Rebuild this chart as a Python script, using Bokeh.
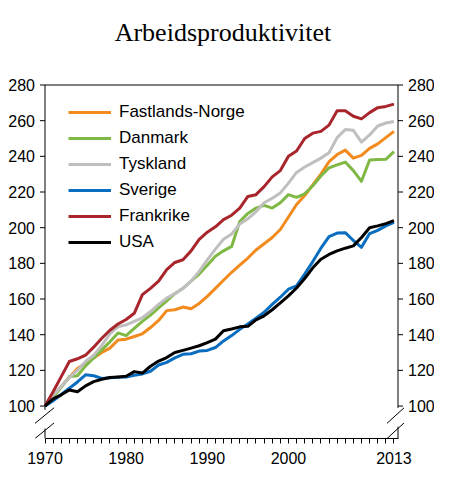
from bokeh.plotting import figure
from bokeh.models import FixedTicker, Range1d, Arrow, Label
from bokeh.core.properties import value
from bokeh.embed import file_html
from bokeh.resources import INLINE

# Data (index 1970 = 100)
years = list(range(1970, 2014))

fastlands_norge = [100, 105, 111, 116, 121, 124, 127, 130, 132.5, 137,
                   137.5, 139, 140.5, 144, 148, 153.5, 154, 155.5, 154.5, 157.5,
                   161.5, 166, 170.5, 175, 179, 183, 187.5, 191, 194.5, 199,
                   206, 213, 218, 224, 230, 237, 241, 243.5, 239, 240.5,
                   244.5, 247, 250.5, 254]
danmark = [100, 105, 110.5, 116.5, 117, 122.5, 127, 131.5, 136, 141,
           139.5, 143.5, 147.5, 151, 155, 159, 163, 166, 170, 174,
           179, 184, 187, 189.5, 203.5, 208, 211, 212.5, 211, 214,
           218.5, 217, 219, 223.5, 229, 233.5, 235.2, 236.8, 232, 226,
           238, 238.2, 238.3, 242.6]
tyskland = [100, 106, 111, 116, 120, 125, 128.5, 134, 140.5, 144.5,
            145.5, 147.5, 149.5, 153, 157, 160.5, 163, 166, 170, 175.5,
            182, 188, 193.5, 196.5, 202, 205, 209, 214, 216.5, 219.5,
            225, 231, 234, 236.5, 239, 242, 250.5, 255, 254.6, 248,
            252, 257, 258.7, 259.5]
sverige = [100, 103, 106.5, 110, 113.5, 117.5, 117, 115.5, 115.8, 116.2,
           116.3, 117.3, 118, 119.5, 123, 124.5, 127, 129, 129.3, 130.8,
           131.2, 132.8, 136.5, 139.5, 143, 146, 149.3, 152.6, 157, 161,
           165.5, 167.4, 174, 181, 188.5, 195, 197, 197.2, 192.8, 189,
           196.7, 198.5, 201, 203]
frankrike = [100, 108, 116.5, 125, 126.5, 128.5, 133, 138, 142.5, 146,
             148.5, 152, 162.5, 166, 170, 176.5, 180.5, 182, 187, 193.5,
             197.5, 200.5, 204.5, 207, 211, 217.5, 218.5, 223, 228.5, 232,
             240, 243, 250, 253, 254, 257.5, 265.5, 265.5, 262.5, 261,
             264.5, 267.3, 268, 269.3]
usa = [100, 104, 106.3, 109, 108, 111.3, 113.7, 115, 116, 116.3,
       116.7, 119.3, 118.5, 122.3, 125.2, 127.2, 130, 131.2, 132.5, 133.8,
       135.6, 137.5, 142.2, 143.2, 144.4, 144.7, 148.3, 150.6, 154, 157.8,
       161.8, 166.2, 171.5, 177.5, 182.3, 185, 187, 188.5, 189.8, 194.5,
       200, 201, 202.3, 204]

y_ticks = list(range(100, 281, 20))
x_labels = {1970: "1970", 1980: "1980", 1990: "1990", 2000: "2000", 2013: "2013"}

series = [
    ("Fastlands-Norge", fastlands_norge, "#F28A1E"),
    ("Danmark", danmark, "#7FB845"),
    ("Tyskland", tyskland, "#BFBFBF"),
    ("Sverige", sverige, "#0A6EC0"),
    ("Frankrike", frankrike, "#A8262B"),
    ("USA", usa, "#000000"),
]

# Axis box in data units, and where it sits on the canvas (px)
x_min, x_max = 1970, 2013.5
y_min, y_max = 81.8, 280
W, H = 434, 472
frame_b = 438                                # x axis sits on the frame bottom
axis_l, axis_r, axis_t = 44.5, 397.5, 84.5   # value axes and top edge

kx = (axis_r - axis_l) / (x_max - x_min)
ky = (frame_b - axis_t) / (y_max - y_min)
x_range = Range1d(x_min - axis_l / kx, x_max + (W - axis_r) / kx)
y_range = Range1d(y_min, y_max + axis_t / ky)

p = figure(width=W, height=H, x_range=x_range, y_range=y_range, y_axis_location=None,
           output_backend="svg", toolbar_location=None,
           min_border_left=0, min_border_right=0, min_border_top=0, min_border_bottom=H - frame_b)

p.grid.visible = False
p.outline_line_color = None
p.background_fill_color = "white"
p.border_fill_color = "white"

# x axis
xa = p.xaxis[0]
xa.ticker = FixedTicker(ticks=years)
xa.bounds = (x_min, x_max)
xa.major_label_overrides = {y: x_labels.get(y, "") for y in years}
xa.axis_line_color = "black"
xa.major_tick_line_color = "black"
xa.minor_tick_line_color = None
xa.major_tick_in = 0
xa.major_tick_out = 5
xa.major_label_standoff = 8
xa.major_label_text_font = "Liberation Sans"
xa.major_label_text_font_size = "16px"
xa.major_label_text_color = "black"

# value axes on both sides (same scale), with a break below 100
tick_px, label_gap_px = 5, 10
lo_a, lo_b = 81.8, 90.5   # lower break slash, from - to
up_a, up_b = 90.3, 99.0   # upper break slash
for x0, side, left_px, right_px in ((x_min, -1, 10, 9), (x_max, 1, 11, 6)):
    frac = left_px / (left_px + right_px)
    y_cut_up = up_a + (up_b - up_a) * frac + 3
    y_cut_lo = lo_a + (lo_b - lo_a) * frac + 1
    p.line([x0, x0], [y_max, y_cut_up], line_color="black", line_width=1)
    p.line([x0, x0], [y_cut_lo, y_min], line_color="black", line_width=1)
    p.multi_line(xs=[[x0, x0 + side * tick_px / kx] for _ in y_ticks],
                 ys=[[t, t] for t in y_ticks], line_color="black", line_width=1)
    p.text(x=[x0] * len(y_ticks), y=y_ticks, text=[str(t) for t in y_ticks],
           x_offset=side * label_gap_px, text_align="right" if side < 0 else "left",
           text_baseline="middle", text_font=value("Liberation Sans"),
           text_font_size="16px", text_color="black")
    xa0, xb0 = x0 - left_px / kx, x0 + right_px / kx
    for ya, yb in ((up_a, up_b), (lo_a, lo_b)):
        p.add_layout(Arrow(end=None, x_start=xa0, y_start=ya, x_end=xb0, y_end=yb,
                           line_color="black", line_width=1))

# top edge of the box
p.line([x_min, x_max], [y_max, y_max], line_color="black", line_width=1)

for name, vals, color in series:
    p.line(years, vals, line_color=color, line_width=3, line_join="round", legend_label=name)

# Title
p.add_layout(Label(x=x_min + (222.5 - axis_l) / kx, y=y_max + (axis_t - 32) / ky,
                   text="Arbeidsproduktivitet", text_align="center", text_baseline="alphabetic",
                   text_font="Liberation Serif", text_font_size="26px", text_color="black"))

leg = p.legend[0]
leg.location = (68, 186)
leg.padding = 0
leg.margin = 0
leg.spacing = 6
leg.glyph_width = 43
leg.glyph_height = 20
leg.label_height = 20
leg.label_standoff = 8
leg.label_text_font = "Liberation Sans"
leg.label_text_font_size = "17px"
leg.label_text_color = "black"
leg.border_line_color = None
leg.background_fill_alpha = 0

open("out.html", "w").write(file_html(p, INLINE))
